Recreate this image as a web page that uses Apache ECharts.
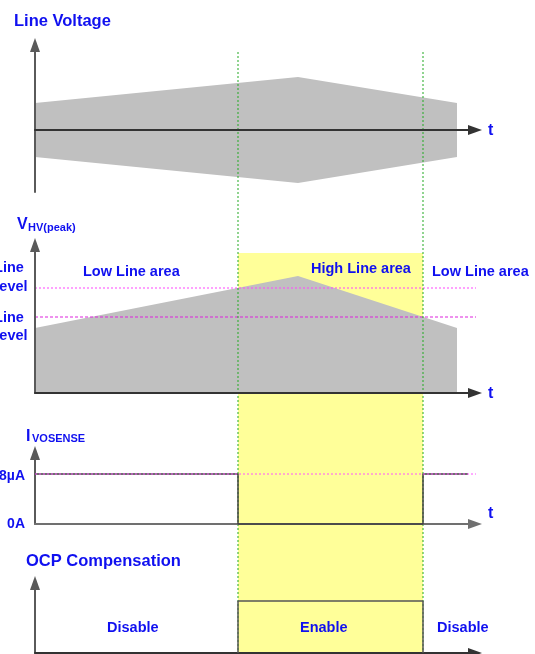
<!DOCTYPE html>
<html>
<head>
<meta charset="utf-8">
<script src="https://cdn.jsdelivr.net/npm/echarts@6/dist/echarts.min.js"></script>
<style>
html,body{margin:0;padding:0;background:#fff;}
#chart{width:535px;height:654px;}
</style>
</head>
<body>
<div id="chart"></div>
<script>
// ---- data (time axis in arbitrary units, 0 .. 440) ----
const timeMax = 440;
const levelLineEnd = 448;
const switchTimes = [203, 388];            // Low->High, High->Low line transitions
// Line voltage envelope (peak amplitude)
const lineVoltTime = [0, 263, 422];
const lineVoltAmp = [27, 53, 27];
// VHV(peak)
const vhvTime = [0, 263, 422];
const vhvPeak = [65, 117, 65];
const highLineLevel = 105;
const lowLineLevel = 76;
// I_VOSENSE (µA)
const iVosenseTime = [0, 203, 203, 388, 388, 433];
const iVosenseVal = [8, 8, 0, 0, 8, 8];
const iVosenseLevel = 8;
const iTickLabels = ['8µA', '0A'];
// OCP compensation (0 = disable, 1 = enable)
const ocpTime = [203, 203, 388, 388];
const ocpVal = [0, 1, 1, 0];
const areaLabels = ['Low Line area', 'High Line area', 'Low Line area'];
const ocpLabels = ['Disable', 'Enable', 'Disable'];

const BLUE = '#1010f0';
const FONT = 'Liberation Sans, Arial, sans-serif';
const zip = (a, b) => a.map((v, i) => [v, b[i]]);

const arrowLine = (color) => ({
  show: true, onZero: true, symbol: ['none', 'triangle'], symbolSize: [10, 14],
  lineStyle: { color: color, width: 2 }
});

function xAx(gi, color, show) {
  return {
    type: 'value', gridIndex: gi, min: 0, max: timeMax, z: 6,
    axisLine: show ? arrowLine(color) : { show: false },
    axisTick: { show: false }, axisLabel: { show: false }, splitLine: { show: false }
  };
}
function yAx(gi, min, max, show) {
  return {
    type: 'value', gridIndex: gi, min: min, max: max, z: 6,
    axisLine: show ? arrowLine('#5a5a5a') : { show: false },
    axisTick: { show: false }, axisLabel: { show: false }, splitLine: { show: false }
  };
}

const grids = [
  { left: 35, top: 45, width: 440, height: 147 },   // line voltage
  { left: 35, top: 245, width: 440, height: 148 },  // VHV(peak)
  { left: 35, top: 453, width: 440, height: 71 },   // I_VOSENSE
  { left: 35, top: 583, width: 440, height: 70 },   // OCP
  { left: 35, top: 253, width: 440, bottom: 0 },    // yellow band overlay
  { left: 35, top: 52, width: 440, bottom: 0 }      // green marker overlay
];

const xAxes = [xAx(0, '#333', true), xAx(1, '#333', true), xAx(2, '#707070', true), xAx(3, '#333', true), xAx(4, '', false), xAx(5, '', false)];
const yAxes = [yAx(0, -62, 85, true), yAx(1, 0, 148, true), yAx(2, 0, 11.36, true), yAx(3, 0, 1.346, true), yAx(4, 0, 1, false), yAx(5, 0, 1, false)];

const noSym = { symbol: 'none', silent: true, animation: false };
const series = [
  // yellow high-line band
  Object.assign({ type: 'line', xAxisIndex: 4, yAxisIndex: 4, z: 0,
    data: [[switchTimes[0], 1], [switchTimes[1], 1]],
    lineStyle: { width: 0 }, areaStyle: { color: '#ffff99', opacity: 1 } }, noSym),
  // line voltage envelope
  Object.assign({ type: 'line', xAxisIndex: 0, yAxisIndex: 0, z: 2,
    data: zip(lineVoltTime, lineVoltAmp), lineStyle: { width: 0 },
    areaStyle: { color: '#c0c0c0', opacity: 1 } }, noSym),
  Object.assign({ type: 'line', xAxisIndex: 0, yAxisIndex: 0, z: 2,
    data: zip(lineVoltTime, lineVoltAmp.map(v => -v)), lineStyle: { width: 0 },
    areaStyle: { color: '#c0c0c0', opacity: 1 } }, noSym),
  // VHV(peak)
  Object.assign({ type: 'line', xAxisIndex: 1, yAxisIndex: 1, z: 2,
    data: zip(vhvTime, vhvPeak), lineStyle: { width: 0 },
    areaStyle: { color: '#c0c0c0', opacity: 1 } }, noSym),
  Object.assign({ type: 'line', xAxisIndex: 1, yAxisIndex: 1, z: 3, clip: false,
    data: [[0, highLineLevel], [levelLineEnd, highLineLevel]],
    lineStyle: { color: '#ff44ff', width: 1, type: [2, 2] } }, noSym),
  Object.assign({ type: 'line', xAxisIndex: 1, yAxisIndex: 1, z: 3, clip: false,
    data: [[0, lowLineLevel], [levelLineEnd, lowLineLevel]],
    lineStyle: { color: '#dd22dd', width: 1, type: [3, 2] } }, noSym),
  // I_VOSENSE
  Object.assign({ type: 'line', xAxisIndex: 2, yAxisIndex: 2, z: 7, clip: false,
    data: zip(iVosenseTime, iVosenseVal),
    lineStyle: { color: '#404040', width: 1.5 } }, noSym),
  Object.assign({ type: 'line', xAxisIndex: 2, yAxisIndex: 2, z: 8, clip: false,
    data: [[0, iVosenseLevel], [levelLineEnd, iVosenseLevel]],
    lineStyle: { color: '#ff55ff', width: 1, type: [2, 2] } }, noSym),
  // OCP compensation
  Object.assign({ type: 'line', xAxisIndex: 3, yAxisIndex: 3, z: 7, clip: false,
    data: zip(ocpTime, ocpVal),
    lineStyle: { color: '#555', width: 1.5 } }, noSym),
  // green transition markers
  Object.assign({ type: 'line', xAxisIndex: 5, yAxisIndex: 5, z: 5,
    data: [[switchTimes[0], 0], [switchTimes[0], 1]],
    lineStyle: { color: '#22aa22', width: 1, type: [2, 2] } }, noSym),
  Object.assign({ type: 'line', xAxisIndex: 5, yAxisIndex: 5, z: 5,
    data: [[switchTimes[1], 0], [switchTimes[1], 1]],
    lineStyle: { color: '#22aa22', width: 1, type: [2, 2] } }, noSym)
];

function txt(text, x, y, size, align) {
  return { type: 'text', x: x, y: y, z: 100, silent: true,
    style: { text: text, fill: BLUE, font: 'bold ' + size + 'px ' + FONT,
      align: align || 'left', verticalAlign: 'middle' } };
}

const graphics = [
  txt('Line Voltage', 14, 21, 16.5),
  txt('t', 488, 131, 16),
  txt('V', 17, 225, 16),
  txt('HV(peak)', 28, 228, 11),
  txt('Line', 9, 268, 14.5, 'center'),
  txt('Level', 9, 287, 14.5, 'center'),
  txt('Line', 9, 318, 14.5, 'center'),
  txt('Level', 9, 336, 14.5, 'center'),
  txt(areaLabels[0], 83, 272, 14.5),
  txt(areaLabels[1], 311, 269, 14.5),
  txt(areaLabels[2], 432, 272, 14.5),
  txt('t', 488, 394, 16),
  txt('I', 26, 437, 16),
  txt('VOSENSE', 32, 439, 11),
  txt(iTickLabels[0], 25, 476, 14, 'right'),
  txt(iTickLabels[1], 25, 524, 14, 'right'),
  txt('t', 488, 514, 16),
  txt('OCP Compensation', 26, 561, 16.5),
  txt(ocpLabels[0], 107, 628, 14.5),
  txt(ocpLabels[1], 300, 628, 14.5),
  txt(ocpLabels[2], 437, 628, 14.5)
];

const chart = echarts.init(document.getElementById('chart'), null, { renderer: 'canvas' });
chart.setOption({
  animation: false,
  backgroundColor: '#ffffff',
  grid: grids,
  xAxis: xAxes,
  yAxis: yAxes,
  series: series,
  graphic: graphics
});
</script>
</body>
</html>
